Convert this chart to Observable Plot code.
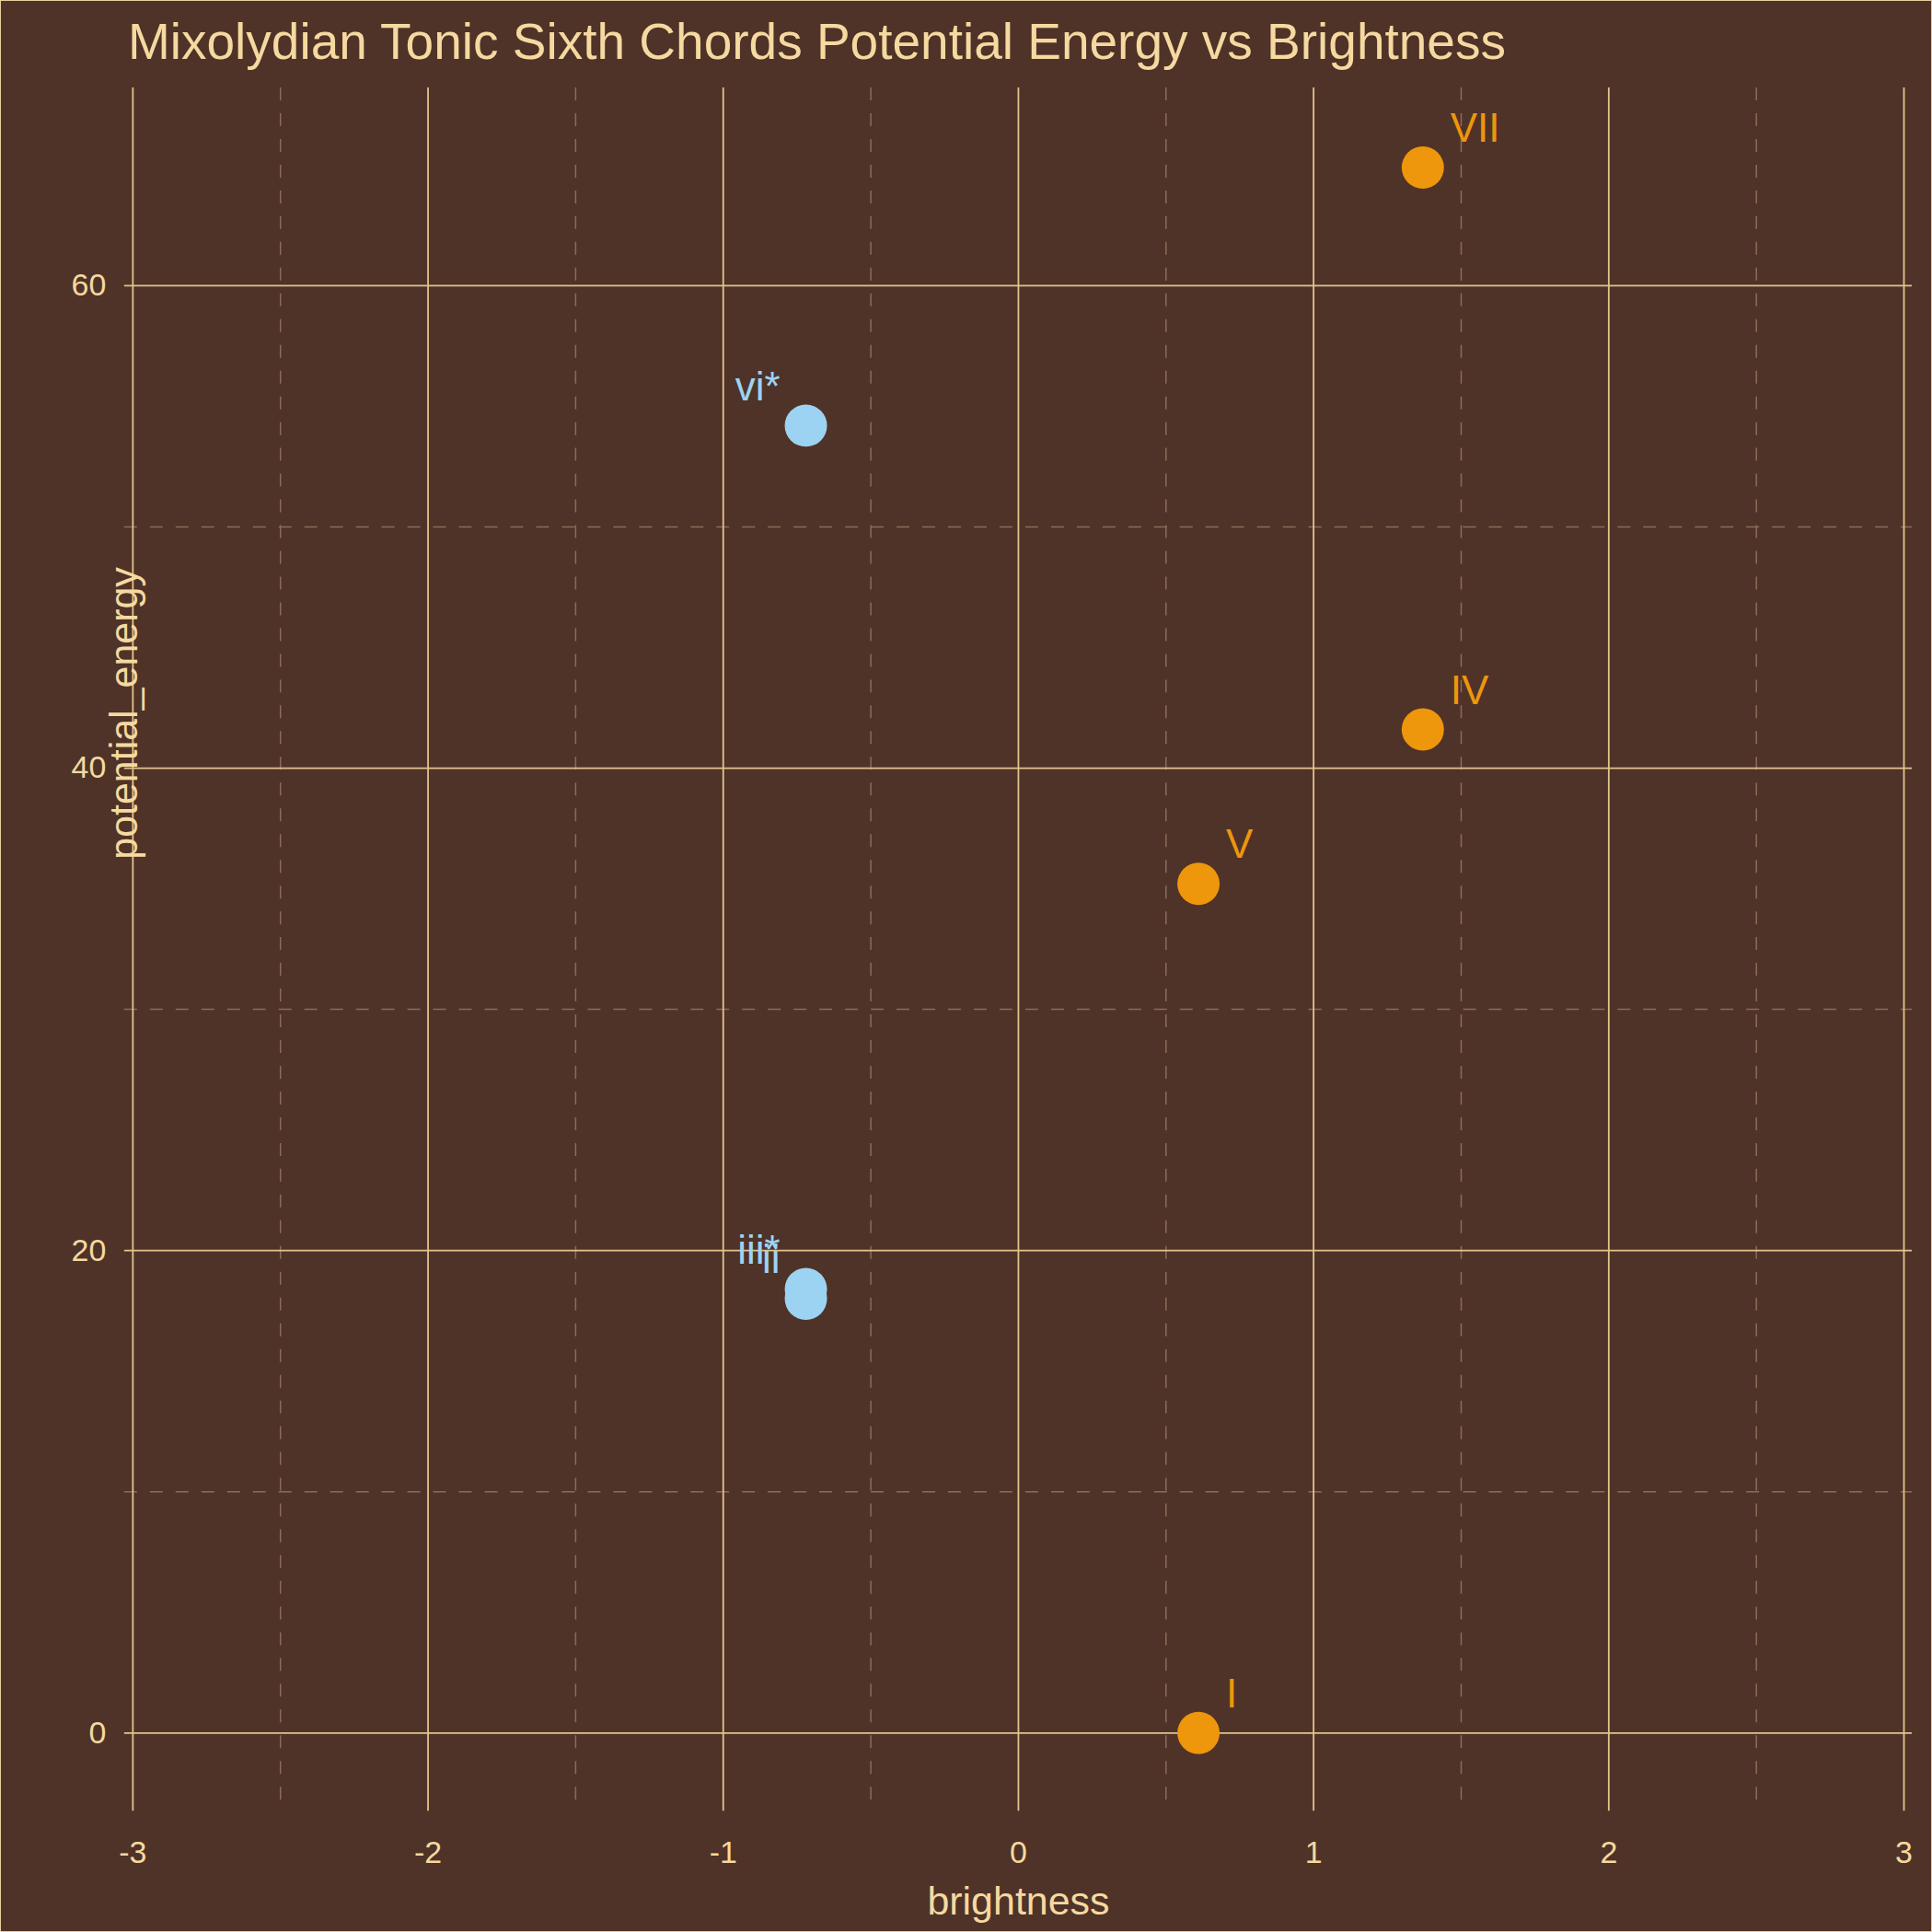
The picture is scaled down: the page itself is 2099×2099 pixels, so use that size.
<!DOCTYPE html>
<html><head><meta charset="utf-8">
<script src="https://cdn.jsdelivr.net/npm/d3@7"></script>
<script src="https://cdn.jsdelivr.net/npm/@observablehq/plot@0.6"></script>
<style>
body{margin:0;background:#4f3328;}
#wrap{width:2097px;height:2097px;border:1px solid #e8d0a0;position:relative;background:#4f3328;font-family:Arial,"Liberation Sans",sans-serif;}
#title{position:absolute;left:138px;top:12px;font-size:55px;color:#f5d9a0;}
#chart{position:absolute;left:0;top:94px;}
</style></head><body>
<div id="wrap"><div id="title">Mixolydian Tonic Sixth Chords Potential Energy vs Brightness</div><div id="chart"></div></div>
<script>
const chords = ["I", "ii", "iii*", "IV", "V", "vi*", "VII"];
const brightness = [0.61, -0.72, -0.72, 1.37, 0.61, -0.72, 1.37];
const potentialEnergy = [0, 18.0, 18.4, 41.6, 35.2, 54.2, 64.9];
const major = [true, false, false, true, true, false, true];
const data = chords.map((c, i) => ({chord: c, x: brightness[i], y: potentialEnergy[i], major: major[i]}));

const gridCol = "#e3c48c", minorCol = "#8c6c58", textCol = "#f5d9a0";
const plot = Plot.plot({
  width: 2099, height: 2005,
  marginLeft: 134, marginRight: 21, marginTop: 0, marginBottom: 131,
  style: {background: "transparent", color: textCol, fontFamily: "Arial, 'Liberation Sans', sans-serif"},
  x: {domain: [-3.028, 3.028], label: null},
  y: {domain: [-3.24, 68.2], label: null},
  marks: [
    Plot.gridX([-2.5, -1.5, -0.5, 0.5, 1.5, 2.5], {stroke: minorCol, strokeOpacity: 1, strokeDasharray: "14 14", strokeWidth: 1.5}),
    Plot.gridY([10, 30, 50], {stroke: minorCol, strokeOpacity: 1, strokeDasharray: "14 14", strokeWidth: 1.5}),
    Plot.gridX([-3, -2, -1, 0, 1, 2, 3], {stroke: gridCol, strokeOpacity: 1, strokeWidth: 1.8}),
    Plot.gridY([0, 20, 40, 60], {stroke: gridCol, strokeOpacity: 1, strokeWidth: 1.8}),
    Plot.axisX([-3, -2, -1, 0, 1, 2, 3], {tickSize: 0, tickPadding: 32, fontSize: 34, fill: textCol, tickFormat: d => String(d)}),
    Plot.axisY([0, 20, 40, 60], {tickSize: 0, tickPadding: 20, fontSize: 34, fill: textCol}),
    Plot.text(["brightness"], {frameAnchor: "bottom", dy: 112, fontSize: 43, fill: textCol}),
    Plot.text(["potential_energy"], {frameAnchor: "left", dy: -98, rotate: -90, fontSize: 43, fill: textCol}),
    Plot.dot(data, {x: "x", y: "y", r: 23, fill: d => d.major ? "#ee960c" : "#9dd3f2", stroke: null}),
    Plot.text(data.filter(d => d.major), {x: "x", y: "y", text: "chord", dx: 30, dy: -42, textAnchor: "start", fontSize: 44, fill: "#ee960c"}),
    Plot.text(data.filter(d => !d.major), {x: "x", y: "y", text: "chord", dx: -28, dy: -42, textAnchor: "end", fontSize: 44, fill: "#9dd3f2"})
  ]
});
document.getElementById("chart").appendChild(plot);
</script></body></html>
